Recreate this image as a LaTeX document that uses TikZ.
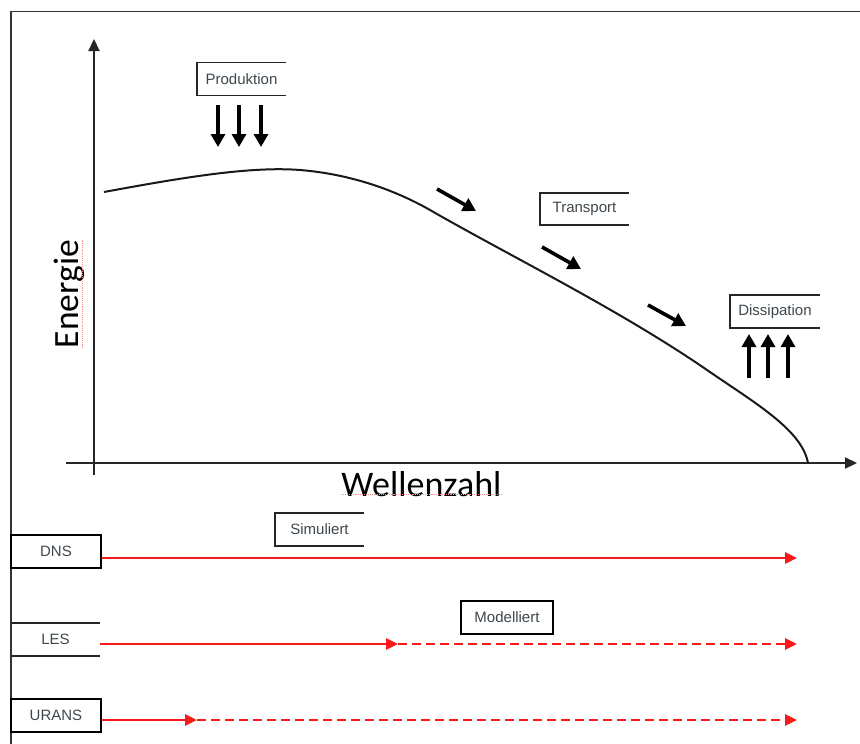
\documentclass[tikz,border=0pt]{standalone}
\usepackage{fontspec}
\setmainfont{Liberation Sans}
\newfontfamily\calib{Carlito}
\usetikzlibrary{arrows.meta}
\definecolor{labelgray}{RGB}{62,72,78}
\definecolor{redline}{RGB}{250,25,25}
\begin{document}
\begin{tikzpicture}[x=1pt,y=-1pt,
  lbl/.style={font=\fontsize{15}{17}\selectfont, text=labelgray, inner sep=0pt, minimum height=33pt},
  boxline/.style={line width=1.5pt, black!85},
  axis/.style={line width=2.2pt, black!85, -{Triangle[length=12pt,width=11pt]}},
  curve/.style={line width=2pt, black!90},
  bigarrow/.style={line width=3.6pt, black, -{Triangle[length=13pt,width=14pt]}},
  redarrow/.style={line width=2.8pt, redline, -{Triangle[length=12pt,width=11pt]}},
  reddash/.style={redarrow, dash pattern=on 9pt off 5pt},
  squiggle/.style={line width=0.9pt, red!45, densely dotted}
]
\useasboundingbox (0,0) rectangle (860,744);
\fill[white] (0,0) rectangle (860,744);

% frame
\draw[line width=1.5pt, black!80] (11,744) -- (11,11.5) -- (860,11.5);

% axes
\coordinate (ytop) at (94,39);
\coordinate (ybot) at (94,475);
\coordinate (xl) at (66,463);
\coordinate (xr) at (857,463);
\draw[axis] (ybot) -- (ytop);
\draw[axis] (xl) -- (xr);

% axis labels
\node[font=\calib\fontsize{36}{40}\selectfont, anchor=base, inner sep=0pt] (wz) at (421.5,496) {Wellenzahl};
\node[font=\calib\fontsize{35.5}{40}\selectfont, anchor=base, rotate=90, inner sep=0pt] (en) at (78.5,294) {Energie};
\draw[squiggle] (wz.south west) ++(0,-2) coordinate (wzs) -- (wz.south east |- wzs);
\draw[squiggle] (en.south west) ++(-2,0) coordinate (ens) -- (en.south east -| ens);

% spectrum curve
\draw[curve] (104,192) .. controls (180,178) and (250,166) .. (300,170)
  .. controls (350,174) and (395,190) .. (430,210)
  .. controls (510,256) and (620,310) .. (707,370)
  .. controls (755,403) and (802,430) .. (808,463);

% open label boxes
\node[lbl, minimum width=89pt] (prod) at (241.5,79) {Produktion};
\draw[boxline] (prod.north east) -- (prod.north west) -- (prod.south west) -- (prod.south east);
\node[lbl, minimum width=89pt, minimum height=32pt] (trans) at (584.5,209) {Transport};
\draw[boxline] (trans.north east) -- (trans.north west) -- (trans.south west) -- (trans.south east);
\node[lbl, minimum width=90pt] (diss) at (775,311.5) {Dissipation};
\draw[boxline] (diss.north east) -- (diss.north west) -- (diss.south west) -- (diss.south east);
\node[lbl, minimum width=89pt] (sim) at (319.5,529.5) {Simuliert};
\draw[boxline] (sim.north east) -- (sim.north west) -- (sim.south west) -- (sim.south east);

% production arrows
\coordinate (p1s) at (218,105); \coordinate (p1e) at (218,147);
\coordinate (p2s) at (239,105); \coordinate (p2e) at (239,147);
\coordinate (p3s) at (261,105); \coordinate (p3e) at (261,147);
\draw[bigarrow] (p1s) -- (p1e);
\draw[bigarrow] (p2s) -- (p2e);
\draw[bigarrow] (p3s) -- (p3e);

% transport arrows
\coordinate (t1s) at (437,189); \coordinate (t1e) at (476,211);
\coordinate (t2s) at (542,247); \coordinate (t2e) at (581,269);
\coordinate (t3s) at (648,305); \coordinate (t3e) at (686,326);
\draw[bigarrow] (t1s) -- (t1e);
\draw[bigarrow] (t2s) -- (t2e);
\draw[bigarrow] (t3s) -- (t3e);

% dissipation arrows
\coordinate (d1s) at (749,378); \coordinate (d1e) at (749,334);
\coordinate (d2s) at (768,378); \coordinate (d2e) at (768,334);
\coordinate (d3s) at (788,378); \coordinate (d3e) at (788,334);
\draw[bigarrow] (d1s) -- (d1e);
\draw[bigarrow] (d2s) -- (d2e);
\draw[bigarrow] (d3s) -- (d3e);

% method labels
\node[lbl, minimum width=90pt, draw, line width=1.5pt] (dns) at (56,551.5) {DNS};
\node[lbl, minimum width=89pt] (les) at (55.5,639.5) {LES};
\draw[boxline] (les.north west) -- (les.north east);
\draw[boxline] (les.south west) -- (les.south east);
\node[lbl, minimum width=90pt, draw, line width=1.5pt] (urans) at (56,715.5) {URANS};
\node[lbl, minimum width=92pt, draw, line width=1.5pt] (mod) at (507,617.5) {Modelliert};

% red arrows
\coordinate (dnsend) at (797,558);
\coordinate (lesmid) at (398,644);
\coordinate (lesend) at (797,644);
\coordinate (uranmid) at (197,720);
\coordinate (uranend) at (797,720);
\draw[redarrow] (dns.east |- dnsend) -- (dnsend);
\draw[redarrow] (les.east |- lesmid) -- (lesmid);
\draw[reddash] (lesmid) -- (lesend);
\draw[redarrow] (urans.east |- uranmid) -- (uranmid);
\draw[reddash] (uranmid) -- (uranend);
\end{tikzpicture}
\end{document}
